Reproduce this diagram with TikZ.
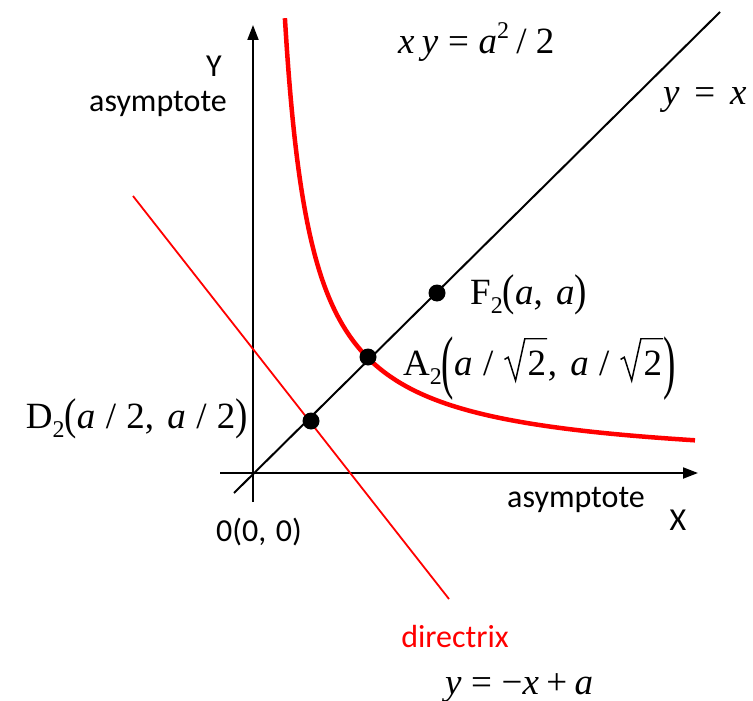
\documentclass[tikz,border=0pt]{standalone}
\usepackage{fontspec}
\setmainfont{Liberation Serif}
\newfontfamily\sfc{Carlito}
\newfontfamily\tms{Liberation Serif}
\usetikzlibrary{arrows.meta}
\newcommand\mi[1]{{\tms\itshape #1}}
\newcommand\sub[1]{\raisebox{-0.25em}{\fontsize{24}{28}\selectfont\tms #1}}
\newcommand\bigp[1]{\raisebox{-0.05em}{\scalebox{1}[1.2]{\tms #1}}}
\newcommand\hugep[1]{\raisebox{-0.28em}{\scalebox{1}[1.9]{\tms #1}}}
\newcommand\eq{\hspace{0.26em}=\hspace{0.26em}}
\newcommand\eqb{\hspace{0.4em}=\hspace{0.4em}}
\newcommand\sla{\hspace{0.28em}/\hspace{0.28em}}
\newcommand\cm{,\hspace{0.36em}}
\newcommand\srt{\hbox{\tikz[baseline=0pt,x=1em,y=1em]{\draw[line width=0.04em,line join=miter] (0,0.42)--(0.1,0.48)--(0.3,-0.15)--(0.55,0.98)--(1.15,0.98); \node[inner sep=0pt,anchor=base west] at (0.62,0) {2};}}}
\begin{document}
\begin{tikzpicture}[x=1pt,y=-1pt,
  axisline/.style={line width=2pt,-{Triangle[length=15pt,width=11pt]}},
  diag/.style={line width=2pt},
  redline/.style={line width=1.8pt,red},
  curve/.style={line width=4.5pt,red},
  dot/.style={circle,fill=black,inner sep=0pt,minimum size=17pt},
  sflab/.style={font=\sfc\fontsize{32}{38}\selectfont,inner sep=0pt},
  mlab/.style={font=\tms\fontsize{37}{44}\selectfont,inner sep=0pt}]
\useasboundingbox (0,0) rectangle (753,701);
\coordinate (O) at (253,473);
\coordinate (Ybot) at (253,502);
\coordinate (Ytop) at (253,25);
\coordinate (Xl) at (220,473);
\coordinate (Xr) at (698,473);
\coordinate (L1) at (234,493);
\coordinate (L2) at (720,12);
\coordinate (Dr1) at (133,196);
\coordinate (Dr2) at (449,599);
\draw[axisline] (Ybot) -- (Ytop);
\draw[axisline] (Xl) -- (Xr);
\draw[diag] (L1) -- (L2);
\draw[curve] plot[domain=31.9:442,samples=200,variable=\u,smooth] ({253+\u},{468-12100/(\u-5)});
\draw[redline] (Dr1) -- (Dr2);
\node[dot] (D) at (311,421) {};
\node[dot] (A) at (368,357) {};
\node[dot] (F) at (437,293) {};
% labels
\node[sflab] (ylab) at (214,66) {Y};
\node[sflab,anchor=east] (yas) at (227,104) {asymptote};
\node[sflab,anchor=east] (xas) at (645,500) {asymptote};
\node[sflab] (xlab) at (678,520) {X};
\node[sflab] (olab) at (259,532) {0(0,\hspace{0.3em}0)};
\node[sflab,red] (dirlab) at (455,637) {directrix};
\node[mlab,anchor=base west] (hyp) at (398,54) {\mi{x}\hspace{0.2em}\mi{y}\eq\mi{a}\raisebox{0.42em}{\fontsize{24}{28}\selectfont 2}\hspace{0.2em}/\hspace{0.25em}2};
\node[mlab,anchor=base west] (yx) at (663,104) {\mi{y}\eqb\mi{x}};
\node[mlab,anchor=base west] (flab) at (470,304) {F\sub{2}\bigp{(}\mi{a}\cm\mi{a}\bigp{)}};
\node[mlab,anchor=base west] (alab) at (403,375) {A\sub{2}\hugep{(}\mi{a}\sla\srt\cm\mi{a}\sla\srt\hugep{)}};
\node[mlab,anchor=base east] (dlab) at (248,428) {D\sub{2}\bigp{(}\mi{a}\sla 2\cm\mi{a}\sla 2\bigp{)}};
\node[mlab,anchor=base west] (dirEq) at (445,694) {\mi{y}\eq−\mi{x}\hspace{0.2em}+\hspace{0.2em}\mi{a}};
\end{tikzpicture}
\end{document}
